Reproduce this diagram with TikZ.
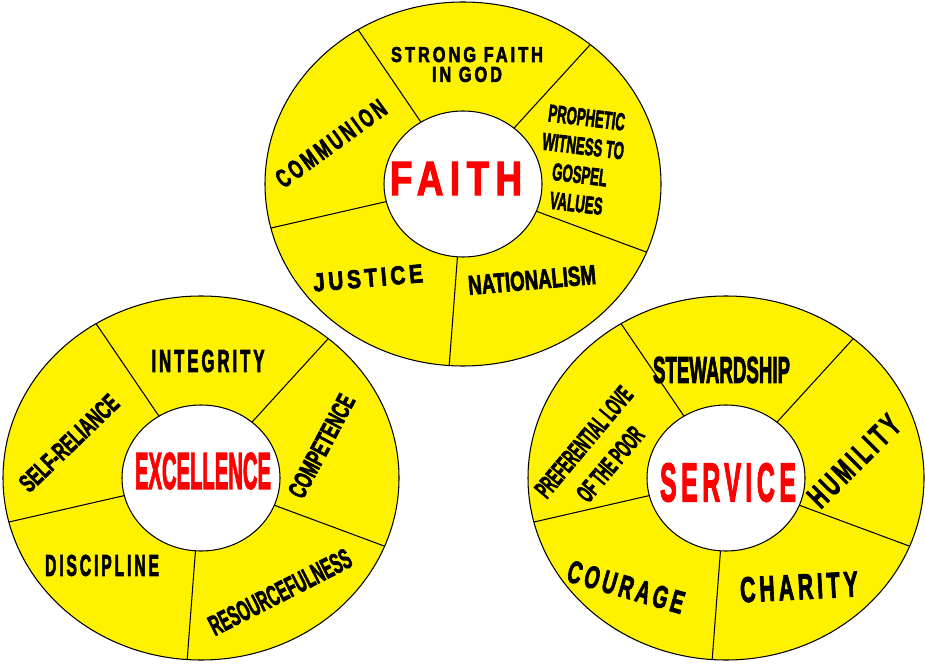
\documentclass[tikz,border=0pt]{standalone}
\usepackage{fontspec}
\setmainfont{Liberation Sans}[BoldFeatures={FakeBold=3}]
\usepackage{graphicx}

\newlength\pxu
\setlength\pxu{0.02cm}
% word squeezed into a box of given width and cap height (in pixel units)
\newcommand\word[3]{\resizebox{#1\pxu}{#2\pxu}{#3}}
\newcommand\spaced[1]{{\addfontfeature{LetterSpace=18}#1}}

\tikzstyle{wheel} = [draw=black, fill=yellow, line width=0.6pt]
\tikzstyle{hub} = [draw=black, fill=white, line width=0.6pt]
\tikzstyle{spoke} = [draw=black, line width=0.6pt]
\tikzstyle{value} = [font=\bfseries, text=black, inner sep=0pt, align=center]
\tikzstyle{virtue} = [font=\bfseries, text=red, inner sep=0pt]

\begin{document}
\begin{tikzpicture}[x=0.02cm, y=0.02cm]
		\useasboundingbox (0,0) rectangle (925,663);
		% Centres
		\coordinate (faith) at (463,479);
		\coordinate (excellence) at (201,185);
		\coordinate (service) at (726,185);
		% Wheels
		\foreach \c in {faith, excellence, service} {
			\draw [wheel] (\c) ellipse (198 and 182);
			\foreach \a in {122,50,-22,-94,194}
				\draw [spoke] (\c) -- ++(\a:198 and 182);
			\draw [hub] (\c) ellipse (79 and 73);
		}
		% Faith
		\node (faithlbl) [virtue] at (456,484.5) {\word{132}{33}{\spaced{FAITH}}};
		\node (god) [value, font=\bfseries\fontsize{10}{11.3}\selectfont] at (467,598.5) {\word{152}{15}{\spaced{STRONG FAITH}}\\\word{70}{15}{\spaced{IN GOD}}};
		\node (communion) [value, rotate=36] at (331,519.5) {\word{130}{18}{\spaced{COMMUNION}}};
		\node (prophetic) [value, rotate=-7, font=\bfseries\fontsize{10}{16.4}\selectfont] at (581.5,502.5) {\word{77}{17}{PROPHETIC}\\\word{82}{17}{WITNESS TO}\\\word{55}{17}{GOSPEL}\\\word{53}{17}{VALUES}};
		\node (justice) [value, rotate=5] at (368,385) {\word{110}{18}{\spaced{JUSTICE}}};
		\node (nationalism) [value, rotate=5] at (532,383) {\word{128}{19}{NATIONALISM}};
		% Excellence
		\node (excellencelbl) [virtue] at (203,192) {\word{136}{36}{EXCELLENCE}};
		\node (integrity) [value] at (208,302) {\word{113}{22}{\spaced{INTEGRITY}}};
		\node (selfreliance) [value, rotate=44] at (69,220) {\word{127}{18}{SELF-RELIANCE}};
		\node (competence) [value, rotate=62] at (321.5,217) {\word{113}{18}{COMPETENCE}};
		\node (discipline) [value] at (102,97.5) {\word{114}{21}{\spaced{DISCIPLINE}}};
		\node (resourcefulness) [value, rotate=27] at (280,71) {\word{156}{20}{RESOURCEFULNESS}};
		% Service
		\node (servicelbl) [virtue] at (728,180.5) {\word{136}{38}{\spaced{SERVICE}}};
		\node (stewardship) [value] at (721.5,293) {\word{137}{26}{STEWARDSHIP}};
		\node (poor) [value, rotate=50, font=\bfseries\fontsize{10}{19.6}\selectfont] at (597,210) {\word{136}{18}{PREFERENTIAL LOVE}\\\word{89}{18}{OF THE POOR}};
		\node (humility) [value, rotate=45] at (854,202) {\word{116}{22}{\spaced{HUMILITY}}};
		\node (charity) [value, rotate=3] at (799,76) {\word{118}{25}{\spaced{CHARITY}}};
		\node (courage) [value, rotate=-16] at (626,76) {\word{120}{22}{\spaced{COURAGE}}};
	\end{tikzpicture}
\end{document}
